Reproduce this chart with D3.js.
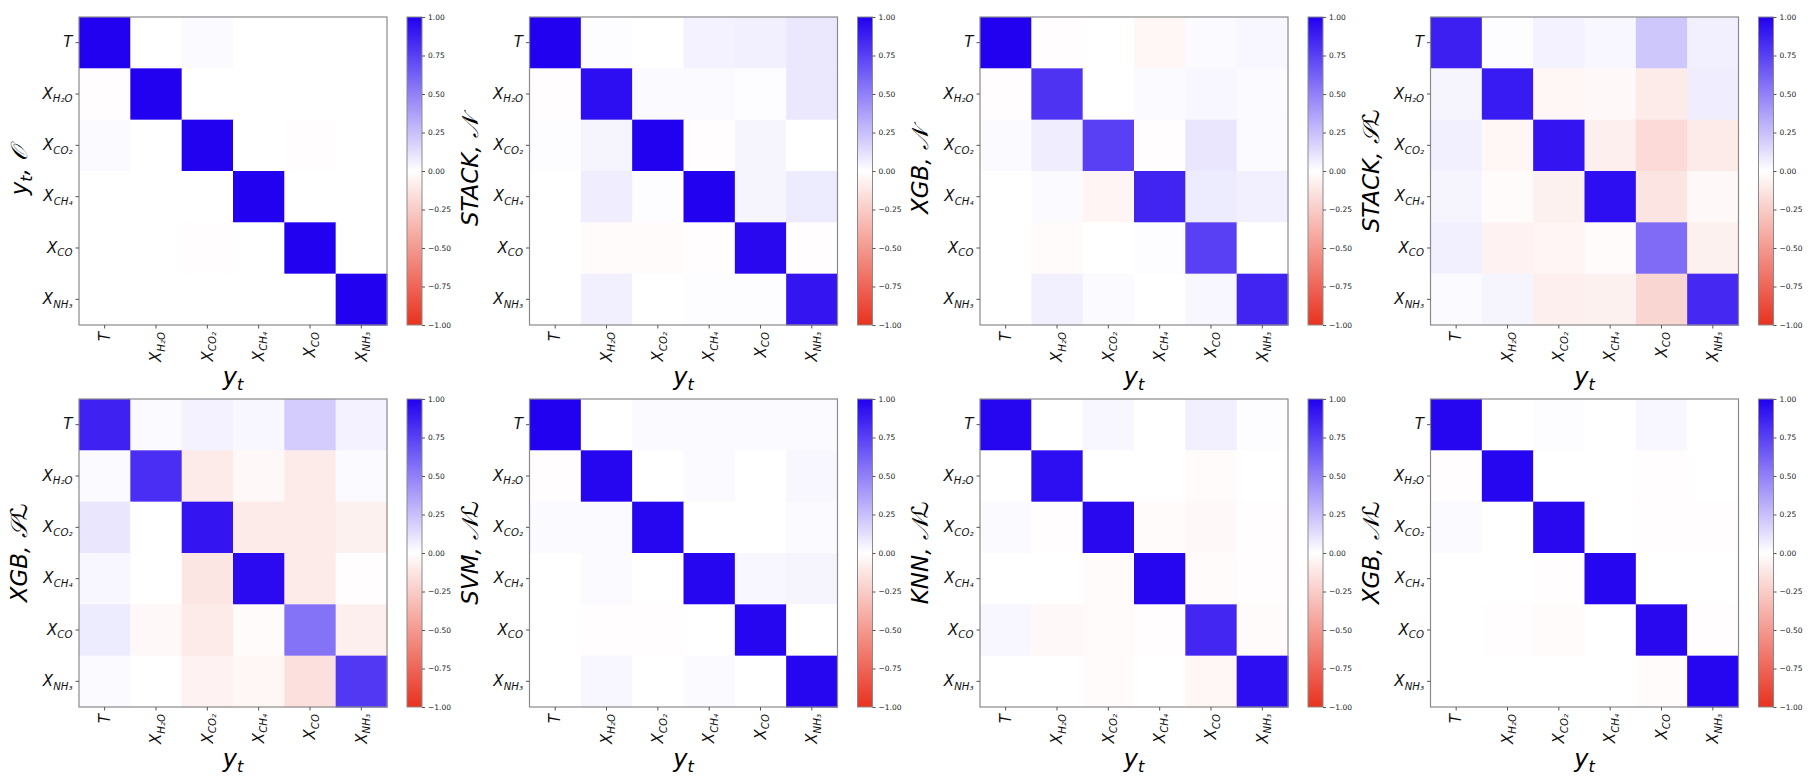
<!DOCTYPE html>
<html>
<head>
<meta charset="utf-8">
<script src="https://d3js.org/d3.v7.min.js"></script>
<style>
body { margin: 0; background: #fff; }
svg text { font-family: "DejaVu Sans", sans-serif; }
</style>
</head>
<body>
<svg id="chart" width="1812" height="780"></svg>
<script>
const variables = ['T', 'H₂O', 'CO₂', 'CH₄', 'CO', 'NH₃'];
const cbTicks = [1, 0.75, 0.5, 0.25, 0, -0.25, -0.5, -0.75, -1];

const panelTitles = ['y_t, 𝒪', 'STACK, 𝒩', 'XGB, 𝒩', 'STACK, 𝒮ℒ',
                     'XGB, 𝒮ℒ', 'SVM, 𝒩ℒ', 'KNN, 𝒩ℒ', 'XGB, 𝒩ℒ'];

const corrTruth = [
    [1, 0, 0.02, 0, 0, 0],
    [-0.01, 1, 0, 0, 0, 0],
    [0.02, 0, 1, 0, -0.01, 0],
    [0, 0, 0, 1, 0, 0],
    [0, 0, -0.01, 0, 1, 0],
    [0, 0, 0, 0, 0, 1]
];
const corrStackN = [
    [1, 0.01, 0, 0.05, 0.06, 0.09],
    [-0.01, 0.95, 0.02, 0.02, 0.01, 0.09],
    [0.01, 0.04, 1, -0.01, 0.04, 0],
    [0, 0.07, 0.01, 1, 0.04, 0.08],
    [0, -0.02, -0.02, -0.01, 0.97, -0.01],
    [0, 0.06, 0, 0.01, 0.01, 0.92]
];
const corrXgbN = [
    [1, -0.01, 0, -0.04, 0.02, 0.03],
    [-0.01, 0.8, 0, 0.02, 0.03, 0.02],
    [0.02, 0.07, 0.75, -0.01, 0.1, 0.02],
    [0, 0.02, -0.05, 0.86, 0.08, 0.06],
    [0, -0.02, 0, 0.01, 0.75, 0],
    [0, 0.06, 0.02, 0, 0.03, 0.86]
];
const corrStackSL = [
    [0.88, 0.01, 0.05, 0.03, 0.22, 0.06],
    [0.04, 0.9, -0.04, -0.03, -0.1, 0.07],
    [0.06, -0.04, 0.92, -0.08, -0.18, -0.1],
    [0.04, -0.02, -0.07, 0.95, -0.13, -0.03],
    [0.06, -0.06, -0.05, -0.02, 0.58, -0.07],
    [0.02, 0.04, -0.08, -0.07, -0.2, 0.84]
];
const corrXgbSL = [
    [0.87, 0.02, 0.05, 0.03, 0.2, 0.05],
    [0.02, 0.82, -0.1, -0.03, -0.1, 0.02],
    [0.1, 0, 0.92, -0.1, -0.1, -0.07],
    [0.03, 0, -0.12, 0.96, -0.1, -0.01],
    [0.08, -0.03, -0.1, -0.02, 0.55, -0.08],
    [0.02, 0, -0.06, -0.04, -0.15, 0.78]
];
const corrSvmNL = [
    [1, 0, 0.02, 0.02, 0.02, 0.02],
    [-0.01, 0.98, 0, 0.02, 0, 0.03],
    [0.02, 0.02, 0.98, 0, 0, 0.02],
    [0, 0.02, 0, 0.98, 0.03, 0.04],
    [0, -0.01, -0.01, 0, 0.98, 0],
    [0, 0.03, 0, 0.02, 0, 0.98]
];
const corrKnnNL = [
    [0.98, 0, 0.03, 0, 0.06, 0.01],
    [0, 0.95, 0, 0, -0.02, 0],
    [0.02, -0.01, 0.97, -0.02, -0.03, -0.01],
    [0, 0, -0.02, 0.98, -0.02, -0.01],
    [0.03, -0.03, -0.02, -0.01, 0.85, -0.02],
    [0, 0, -0.02, 0, -0.04, 0.95]
];
const corrXgbNL = [
    [0.98, 0, 0.01, 0, 0.03, 0],
    [-0.01, 0.98, 0, 0, -0.01, 0],
    [0.02, 0, 0.97, 0, -0.01, -0.01],
    [0, 0, -0.01, 0.98, 0, 0],
    [0, -0.01, -0.02, 0, 0.97, -0.01],
    [0, 0, 0, 0, -0.02, 0.98]
];
const matrices = [corrTruth, corrStackN, corrXgbN, corrStackSL,
                  corrXgbSL, corrSvmNL, corrKnnNL, corrXgbNL];

const svg = d3.select('#chart');
const size = 308;
const color = d3.scaleLinear()
    .domain([-1, 0, 1])
    .range(['#e8321f', '#ffffff', '#2200f0'])
    .interpolate(d3.interpolateRgb);

// writes X_{sub} (or plain T) into a text node
function varLabel(sel, v) {
    sel.text(null);
    if (v === 'T') {
        sel.append('tspan').attr('font-style', 'italic').text('T');
        return;
    }
    sel.append('tspan').attr('font-style', 'italic').text('X');
    sel.append('tspan').attr('font-style', 'italic').attr('font-size', '0.68em')
        .attr('dy', '0.35em').text(v);
}

matrices.forEach((m, k) => {
    const left = 79 + (k % 4) * 450.5;
    const top = k < 4 ? 17 : 399;
    const g = svg.append('g').attr('transform', `translate(${left},${top})`);

    const x = d3.scaleBand().domain(variables).range([0, size]);
    const y = d3.scaleBand().domain(variables).range([0, size]);

    const cells = [];
    m.forEach((row, i) => row.forEach((v, j) => cells.push({ r: variables[i], c: variables[j], v })));
    g.selectAll('rect.cell').data(cells).join('rect')
        .attr('class', 'cell')
        .attr('x', d => x(d.c)).attr('y', d => y(d.r))
        .attr('width', x.bandwidth() + 0.5).attr('height', y.bandwidth() + 0.5)
        .attr('fill', d => color(d.v));

    g.append('rect').attr('width', size).attr('height', size)
        .attr('fill', 'none').attr('stroke', '#8a8a8a').attr('stroke-width', 1.2);

    // y axis
    const yAx = g.append('g').call(d3.axisLeft(y).tickSize(3.5).tickPadding(3));
    yAx.select('.domain').remove();
    yAx.selectAll('line').attr('stroke', '#555');
    yAx.selectAll('text').attr('font-size', 15).attr('fill', '#111').each(function(v) { varLabel(d3.select(this), v); });

    // x axis
    const xAx = g.append('g').attr('transform', `translate(0,${size})`)
        .call(d3.axisBottom(x).tickSize(3.5).tickPadding(3));
    xAx.select('.domain').remove();
    xAx.selectAll('line').attr('stroke', '#555');
    xAx.selectAll('text')
        .attr('font-size', 15).attr('fill', '#111')
        .attr('transform', 'rotate(-90)')
        .attr('text-anchor', 'end')
        .attr('x', -7).attr('y', 0).attr('dy', '0.35em')
        .each(function(v) { varLabel(d3.select(this), v); });

    // axis titles
    const xt = g.append('text').attr('x', size / 2).attr('y', size + 60)
        .attr('text-anchor', 'middle').attr('font-size', 24).attr('font-style', 'italic');
    xt.append('tspan').text('y');
    xt.append('tspan').attr('font-size', 16).attr('dy', 5).text('t');

    const title = panelTitles[k];
    const yt = g.append('text')
        .attr('transform', `translate(-52,${size / 2}) rotate(-90)`)
        .attr('text-anchor', 'middle').attr('font-size', 23).attr('font-style', 'italic');
    if (title.startsWith('y_t')) {
        yt.append('tspan').text('y');
        yt.append('tspan').attr('font-size', 16).attr('dy', 5).text('t');
        yt.append('tspan').attr('dy', -5).text(', 𝒪');
    } else {
        yt.text(title);
    }

    // colorbar
    const cb = g.append('g').attr('transform', `translate(${size + 20},0)`);
    const cbScale = d3.scaleLinear().domain([-1, 1]).range([size, 0]);
    const gradId = 'grad' + k;
    const grad = svg.append('defs').append('linearGradient').attr('id', gradId)
        .attr('x1', 0).attr('x2', 0).attr('y1', 1).attr('y2', 0);
    d3.range(-1, 1.01, 0.25).forEach(v => {
        grad.append('stop').attr('offset', (v + 1) / 2).attr('stop-color', color(v));
    });
    cb.append('rect').attr('width', 15).attr('height', size)
        .attr('fill', `url(#${gradId})`).attr('stroke', '#8a8a8a').attr('stroke-width', 1);
    const cbAx = cb.append('g').attr('transform', 'translate(15,0)')
        .call(d3.axisRight(cbScale).tickValues(cbTicks).tickFormat(d3.format('.2f')).tickSize(3).tickPadding(3));
    cbAx.select('.domain').remove();
    cbAx.selectAll('line').attr('stroke', '#555');
    cbAx.selectAll('text').attr('font-size', 7.5).attr('fill', '#222');
});
</script>
</body>
</html>
